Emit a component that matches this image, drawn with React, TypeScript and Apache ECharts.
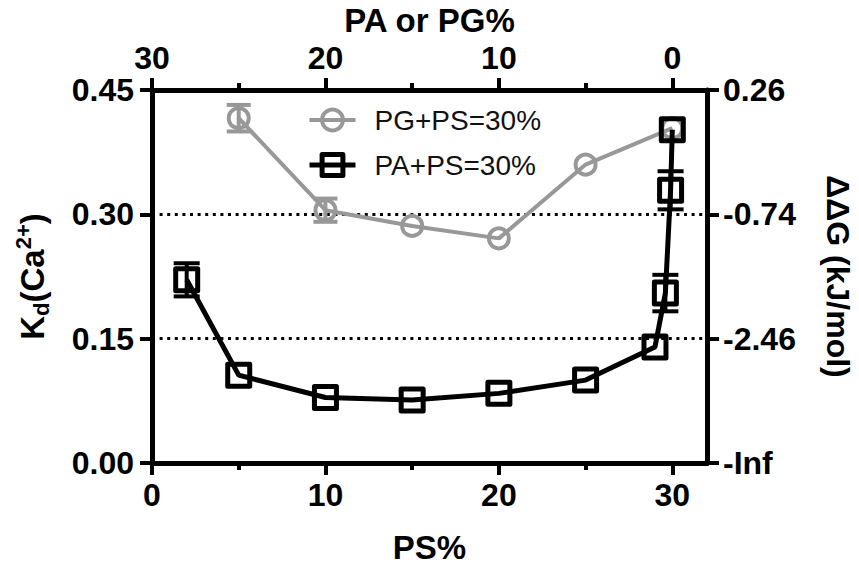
import React, { useEffect, useRef } from "react";
import * as echarts from "echarts";

const FONT = '"Liberation Sans", Arial, Helvetica, sans-serif';
const GRAY = "#989898";
const BLACK = "#000000";

// PG + PS = 30 % series (PS % on the bottom axis)
const psPG = [5, 10, 15, 20, 25, 30];
const kdPG = [0.416, 0.305, 0.286, 0.271, 0.36, 0.404];
const errPG = [0.016, 0.014, 0, 0, 0, 0];

// PA + PS = 30 % series
const psPA = [2, 5, 10, 15, 20, 25, 29, 29.6, 29.9, 30];
const kdPA = [0.221, 0.106, 0.079, 0.076, 0.084, 0.1, 0.14, 0.205, 0.329, 0.402];
const errPA = [0.02, 0, 0, 0, 0, 0, 0, 0.022, 0.023, 0];

const seriesNames = ["PG+PS=30%", "PA+PS=30%"];

// axis ticks
const majorTicks = [0, 10, 20, 30];
const minorTicks = [5, 15, 25];
const kdTicks = [0, 0.15, 0.3, 0.45];
const ddgLabels = ["-Inf", "-2.46", "-0.74", "0.26"];

const labelStyle = {
  fontFamily: FONT,
  fontWeight: "bold" as const,
  fontSize: 32,
  color: BLACK,
};

const errorBarRenderer =
  (color: string, capHalf: number, width: number) => (_params: any, api: any) => {
    const x = api.value(0);
    const y = api.value(1);
    const e = api.value(2);
    if (!e) return null;
    const lo = api.coord([x, y - e]);
    const hi = api.coord([x, y + e]);
    const style = { stroke: color, lineWidth: width, fill: "none" };
    return {
      type: "group",
      children: [
        { type: "line", shape: { x1: lo[0], y1: lo[1], x2: hi[0], y2: hi[1] }, style },
        { type: "line", shape: { x1: lo[0] - capHalf, y1: lo[1], x2: lo[0] + capHalf, y2: lo[1] }, style },
        { type: "line", shape: { x1: hi[0] - capHalf, y1: hi[1], x2: hi[0] + capHalf, y2: hi[1] }, style },
      ],
    };
  };

function xAxisPair(position: "top" | "bottom", min: number, max: number, inverse: boolean, name: string, nameGap: number) {
  const major = {
    type: "value",
    position,
    min,
    max,
    inverse,
    name,
    nameLocation: "middle",
    nameGap,
    nameTextStyle: { ...labelStyle, fontSize: 33 },
    axisLine: { show: true, onZero: false, lineStyle: { color: BLACK, width: 5 } },
    axisTick: { show: true, customValues: majorTicks, length: 12, lineStyle: { color: BLACK, width: 4 } },
    axisLabel: { show: true, customValues: majorTicks, margin: 16, ...labelStyle },
    splitLine: { show: false },
  };
  const minor = {
    type: "value",
    position,
    min,
    max,
    inverse,
    axisLine: { show: false, onZero: false },
    axisTick: { show: true, customValues: minorTicks, length: 7, lineStyle: { color: BLACK, width: 4 } },
    axisLabel: { show: false },
    splitLine: { show: false },
  };
  return [major, minor];
}

export default function App() {
  const ref = useRef<HTMLDivElement>(null);

  useEffect(() => {
    if (!ref.current) return;
    const chart = echarts.init(ref.current, undefined, { renderer: "svg" });

    const option = {
      animation: false,
      backgroundColor: "#ffffff",
      grid: { left: 152, right: 152, top: 90, bottom: 106, containLabel: false, outerBoundsMode: "none" },
      legend: {
        data: [
          {
            name: seriesNames[0],
            itemStyle: { borderWidth: 4 },
            lineStyle: { width: 4 },
          },
          {
            name: seriesNames[1],
            itemStyle: { borderWidth: 5 },
            lineStyle: { width: 5 },
          },
        ],
        orient: "vertical",
        left: 302,
        top: 100,
        itemWidth: 46,
        itemHeight: 26,
        itemGap: 15,
        textStyle: {
          fontFamily: FONT,
          fontSize: 28,
          color: "#111111",
          lineHeight: 30,
          padding: [0, 0, 0, 14],
        },
      },
      xAxis: [
        ...xAxisPair("bottom", 0, 32, false, "PS%", 68),
        ...xAxisPair("top", -2, 30, true, "PA or PG%", 45),
      ],
      yAxis: [
        {
          type: "value",
          position: "left",
          min: 0,
          max: 0.45,
          interval: 0.15,
          name: "{b|K}{sub|d}{b|(Ca}{sup|2+}{b|)}",
          nameLocation: "middle",
          nameRotate: 90,
          nameGap: 98,
          nameTextStyle: {
            rich: {
              b: { ...labelStyle, fontSize: 33, lineHeight: 44, verticalAlign: "middle" },
              sub: { ...labelStyle, fontSize: 22, lineHeight: 44, verticalAlign: "bottom", padding: [0, 0, 2, 0] },
              sup: { ...labelStyle, fontSize: 22, lineHeight: 44, verticalAlign: "top", padding: [2, 0, 0, 0] },
            },
          },
          axisLine: { show: true, onZero: false, lineStyle: { color: BLACK, width: 5 } },
          axisTick: { show: true, length: 12, lineStyle: { color: BLACK, width: 4 } },
          axisLabel: { ...labelStyle, margin: 18, formatter: (v: number) => v.toFixed(2) },
          splitLine: {
            show: true,
            lineStyle: { color: BLACK, width: 3, type: [3, 4.6] },
          },
        },
        {
          type: "value",
          position: "right",
          min: 0,
          max: 0.45,
          interval: 0.15,
          name: "ΔΔG (kJ/mol)",
          nameLocation: "middle",
          nameRotate: -90,
          nameGap: 115,
          nameTextStyle: { ...labelStyle, fontSize: 32 },
          axisLine: { show: true, onZero: false, lineStyle: { color: BLACK, width: 5 } },
          axisTick: { show: true, length: 12, lineStyle: { color: BLACK, width: 4 } },
          axisLabel: {
            ...labelStyle,
            margin: 16,
            formatter: (v: number) => {
              const i = kdTicks.findIndex((t) => Math.abs(t - v) < 1e-6);
              return i >= 0 ? ddgLabels[i] : "";
            },
          },
          splitLine: { show: false },
        },
      ],
      series: [
        {
          name: seriesNames[0],
          type: "line",
          xAxisIndex: 0,
          yAxisIndex: 0,
          data: psPG.map((x, i) => [x, kdPG[i]]),
          symbol: "circle",
          symbolSize: 20,
          showSymbol: true,
          lineStyle: { color: GRAY, width: 4 },
          itemStyle: { color: "rgba(255,255,255,0)", borderColor: GRAY, borderWidth: 4 },
          z: 2,
        },
        {
          type: "custom",
          xAxisIndex: 0,
          yAxisIndex: 0,
          data: psPG.map((x, i) => [x, kdPG[i], errPG[i]]),
          encode: { x: 0, y: 1 },
          renderItem: errorBarRenderer(GRAY, 12, 4),
          clip: false,
          z: 2,
        },
        {
          name: seriesNames[1],
          type: "line",
          xAxisIndex: 0,
          yAxisIndex: 0,
          data: psPA.map((x, i) => [x, kdPA[i]]),
          symbol: "rect",
          symbolSize: 22,
          showSymbol: true,
          lineStyle: { color: BLACK, width: 5 },
          itemStyle: { color: "rgba(255,255,255,0)", borderColor: BLACK, borderWidth: 5, borderJoin: "round" },
          z: 3,
        },
        {
          type: "custom",
          xAxisIndex: 0,
          yAxisIndex: 0,
          data: psPA.map((x, i) => [x, kdPA[i], errPA[i]]),
          encode: { x: 0, y: 1 },
          renderItem: errorBarRenderer(BLACK, 13, 4),
          clip: false,
          z: 3,
        },
      ],
    };

    chart.setOption(option as any);
    return () => chart.dispose();
  }, []);

  return (
    <div
      ref={ref}
      style={{ position: "fixed", left: 0, top: 0, width: 859, height: 569, background: "#fff" }}
    />
  );
}
